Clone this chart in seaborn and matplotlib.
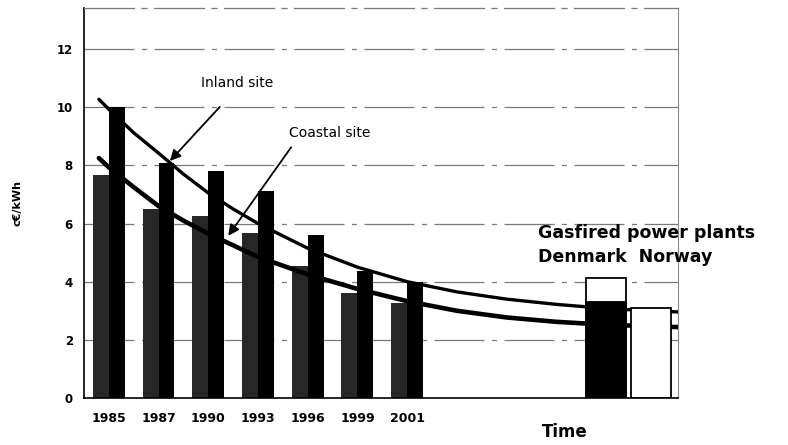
import numpy as np
import pandas as pd
import matplotlib
matplotlib.use("Agg")
import matplotlib.pyplot as plt
import seaborn as sns

# Produktionskosten fuer Windstrom (c€/kWh)
years = ["1985", "1987", "1990", "1993", "1996", "1999", "2001"]
coastal = [7.66, 6.49, 6.25, 5.67, 4.54, 3.61, 3.27]
inland = [10.0, 8.07, 7.80, 7.11, 5.60, 4.36, 3.99]

# Gaskraftwerke
gas_names = ["Denmark", "Norway"]
gas_total = [4.12, 3.09]
gas_lower = [3.30, 0.0]

# Trendkurven (x in Kategorie-Einheiten)
curve_x = [-0.2, 0, 0.5, 1, 1.5, 2, 2.5, 3, 4, 5, 6, 7, 8, 9, 10, 11, 11.45]
inland_curve = [10.27, 9.93, 9.12, 8.42, 7.7, 7.05, 6.5, 6.0, 5.15, 4.5,
                4.0, 3.65, 3.4, 3.22, 3.08, 2.99, 2.96]
coastal_curve = [8.25, 7.93, 7.25, 6.6, 6.1, 5.65, 5.25, 4.85, 4.25, 3.75,
                 3.33, 3.0, 2.77, 2.62, 2.52, 2.46, 2.44]

yticks = [0, 2, 4, 6, 8, 10, 12]

sns.set_style("white")
plt.rcParams['font.family'] = ['DejaVu Sans']
plt.rcParams.update({"text.color": "black", "axes.labelcolor": "black",
                     "xtick.color": "black", "ytick.color": "black"})

fig = plt.figure(figsize=(7.88, 4.45), dpi=100)
ax = fig.add_axes([0.1066, 0.1056, 0.7538, 0.8764])

pos = np.arange(len(years))
df = pd.DataFrame({
    "pos": np.concatenate([pos, pos]),
    "cost": coastal + inland,
    "site": ["Coastal site"] * len(years) + ["Inland site"] * len(years),
})
sns.barplot(data=df, x="pos", y="cost", hue="site", native_scale=True,
            palette={"Coastal site": "#272727", "Inland site": "#000000"},
            width=0.64, dodge=True, legend=False, linewidth=0, ax=ax, zorder=2)

sns.lineplot(x=curve_x, y=inland_curve, color="black", lw=2.4, ax=ax, zorder=3)
sns.lineplot(x=curve_x, y=coastal_curve, color="black", lw=3.3, ax=ax, zorder=3)

gas_pos = len(years) + 3 + np.arange(len(gas_names)) * 0.9
sns.barplot(x=gas_pos, y=gas_total, native_scale=True, color="white",
            edgecolor="black", linewidth=1.3, width=0.89, ax=ax, zorder=4)
sns.barplot(x=gas_pos, y=gas_lower, native_scale=True, color="black",
            edgecolor="black", linewidth=1.3, width=0.89, ax=ax, zorder=5)

ax.set_xlim(-0.5, 11.45)
ax.set_ylim(0, 13.41)
ax.set_yticks(yticks)
ax.set_yticklabels([str(v) for v in yticks], fontsize=8.5, fontweight="bold")
ax.set_xticks(pos)
ax.set_xticklabels(years, fontsize=9, fontweight="bold")
ax.set_xticks(np.arange(0.5, 11, 1), minor=True)
ax.tick_params(axis="x", which="major", length=0, pad=10)
ax.tick_params(axis="x", which="minor", length=5, width=0.8, direction="inout")
ax.tick_params(axis="y", length=3, width=0.8, direction="out", pad=5)

for v in yticks[1:]:
    ax.axhline(v, color="#7a7a7a", lw=0.9, ls=(0, (40, 6, 4, 6)), zorder=1)

for side in ["left", "bottom"]:
    ax.spines[side].set_color("black")
    ax.spines[side].set_linewidth(1.2)
ax.spines["top"].set_color("#7a7a7a")
ax.spines["top"].set_linestyle((0, (40, 6, 4, 6)))
ax.spines["top"].set_linewidth(0.9)
ax.spines["right"].set_color("#8a8a8a")
ax.spines["right"].set_linewidth(0.8)

ax.set_ylabel("c€/kWh", fontsize=8, fontweight="bold")
ax.yaxis.set_label_coords(-0.103, 0.5)
ax.set_xlabel("Time", fontsize=12, fontweight="bold")
ax.xaxis.set_label_coords(0.81, -0.065)

# Beschriftungen mit Pfeilen
arrow = dict(arrowstyle="-|>", color="black", lw=1.3, mutation_scale=16)
ax.text(2.58, 10.83, "Inland site", fontsize=10, ha="center", va="center")
ax.annotate("", xy=(1.19, 8.08), xytext=(2.27, 10.08), arrowprops=arrow)
ax.text(4.45, 9.11, "Coastal site", fontsize=10, ha="center", va="center")
ax.annotate("", xy=(2.37, 5.5), xytext=(3.7, 8.7), arrowprops=arrow)

ax.text(8.63, 5.67, "Gasfired power plants", fontsize=12.5, fontweight="bold",
        ha="left", va="center", clip_on=False)
ax.text(8.63, 4.85, "Denmark  Norway", fontsize=12.5, fontweight="bold",
        ha="left", va="center", clip_on=False)

fig.savefig("out.png", dpi=100)
